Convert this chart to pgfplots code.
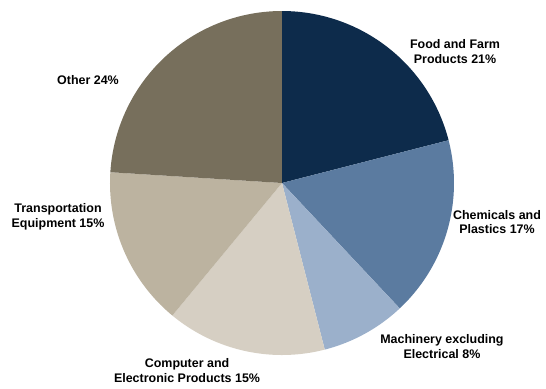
\documentclass[border=0pt]{standalone}
\usepackage{fontspec}
\setmainfont{Liberation Sans}
\usepackage{pgfplots}
\pgfplotsset{compat=1.18}
\definecolor{cFood}{HTML}{0D2B4B}
\definecolor{cChem}{HTML}{5B7BA0}
\definecolor{cMach}{HTML}{9BB0CB}
\definecolor{cComp}{HTML}{D6CFC3}
\definecolor{cTrans}{HTML}{BCB3A0}
\definecolor{cOther}{HTML}{776F5C}
\tikzset{lbl/.style={font=\fontsize{12.5}{15}\selectfont\bfseries, align=center, text=black, inner sep=0pt}}
% shares (percent): Food 21, Chemicals 17, Machinery 8, Computer 15, Transportation 15, Other 24
% slices run clockwise from 12 o'clock; 1% = 3.6 degrees
\begin{document}
\begin{tikzpicture}
\begin{axis}[
  scale only axis,
  x=172bp, y=172bp,
  xmin=-1.6395, xmax=1.5349,
  ymin=-1.1919, ymax=1.0640,
  axis line style={draw=none},
  xtick=\empty, ytick=\empty,
  clip=false,
]
\addplot[fill=cFood,  draw=none, domain=14.4:90,      samples=60] ({cos(x)},{sin(x)}) -- (axis cs:0,0) -- cycle;
\addplot[fill=cChem,  draw=none, domain=-46.8:14.4,   samples=60] ({cos(x)},{sin(x)}) -- (axis cs:0,0) -- cycle;
\addplot[fill=cMach,  draw=none, domain=-75.6:-46.8,  samples=40] ({cos(x)},{sin(x)}) -- (axis cs:0,0) -- cycle;
\addplot[fill=cComp,  draw=none, domain=-129.6:-75.6, samples=60] ({cos(x)},{sin(x)}) -- (axis cs:0,0) -- cycle;
\addplot[fill=cTrans, draw=none, domain=-183.6:-129.6,samples=60] ({cos(x)},{sin(x)}) -- (axis cs:0,0) -- cycle;
\addplot[fill=cOther, draw=none, domain=-270:-183.6,  samples=60] ({cos(x)},{sin(x)}) -- (axis cs:0,0) -- cycle;
\node[lbl] at (axis cs:1.006,0.762) {Food and Farm\\Products 21\%};
\node[lbl] at (axis cs:1.25,-0.227) {Chemicals and\\Plastics 17\%};
\node[lbl] at (axis cs:0.930,-0.953) {Machinery excluding\\Electrical 8\%};
\node[lbl] at (axis cs:-0.552,-1.093) {Computer and\\Electronic Products 15\%};
\node[lbl] at (axis cs:-1.302,-0.198) {Transportation\\Equipment 15\%};
\node[lbl] at (axis cs:-1.128,0.599) {Other 24\%};
\end{axis}
\end{tikzpicture}
\end{document}
